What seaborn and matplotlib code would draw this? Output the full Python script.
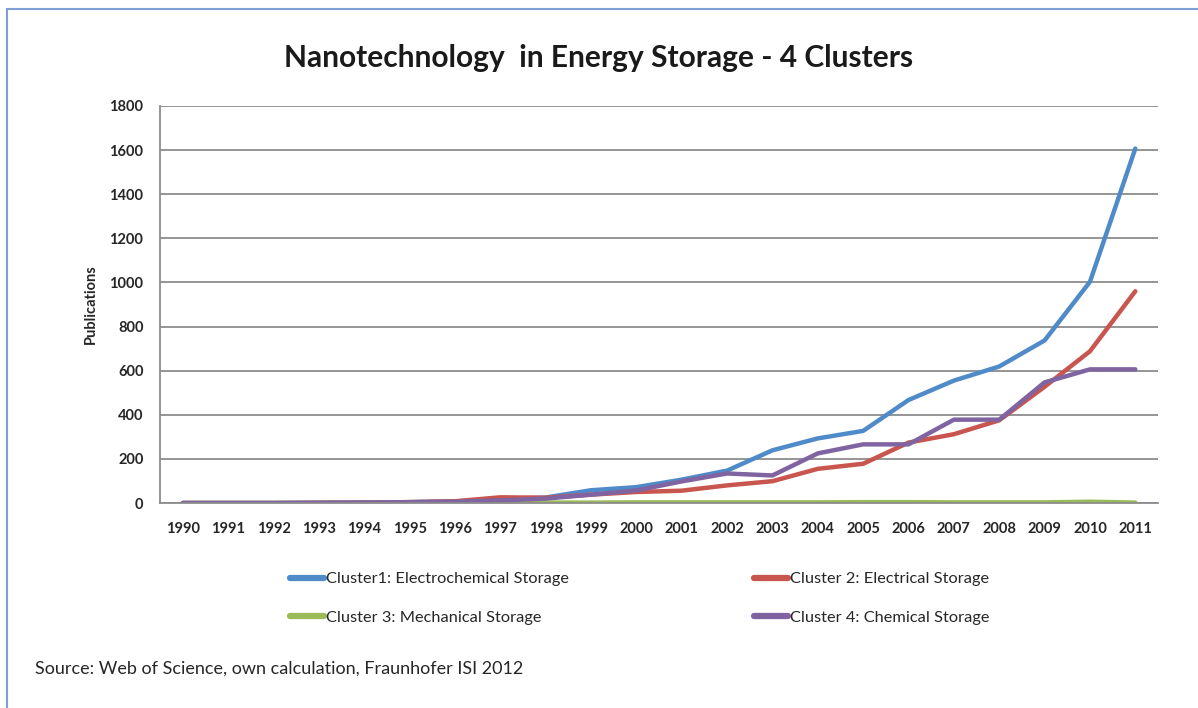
import pandas as pd
import numpy as np
import matplotlib.pyplot as plt
from matplotlib.patches import Rectangle
import seaborn as sns

# =============================
# DATA
# =============================
years = list(range(1990, 2012))

cluster1 = [0, 0, 0, 1, 2, 4, 7, 18, 25, 58, 72, 106, 147, 239, 293, 327, 467, 555, 619, 737, 1003, 1607]
cluster2 = [0, 0, 0, 1, 2, 4, 8, 26, 24, 38, 50, 56, 80, 99, 155, 178, 274, 312, 375, 527, 688, 960]
cluster3 = [0, 0, 0, 0, 0, 1, 1, 2, 2, 2, 3, 3, 3, 3, 3, 4, 4, 3, 3, 3, 6, 2]
cluster4 = [0, 0, 0, 1, 2, 4, 6, 12, 20, 38, 57, 98, 134, 125, 225, 266, 266, 378, 378, 547, 606, 606]

series_names = [
    "Cluster1: Electrochemical Storage",
    "Cluster 2: Electrical Storage",
    "Cluster 3: Mechanical Storage",
    "Cluster 4: Chemical Storage",
]
colors = ["#4F8BC9", "#C9554F", "#9BBB59", "#8064A2"]

df = pd.DataFrame({
    "year": years * 4,
    "publications": cluster1 + cluster2 + cluster3 + cluster4,
    "series": sum([[n] * len(years) for n in series_names], []),
})

# =============================
# PLOT
# =============================
sns.set_style("white")
plt.rcParams["font.family"] = ["Lato", "DejaVu Sans"]

fig = plt.figure(figsize=(11.98, 7.08), dpi=100)
ax = fig.add_axes([0.1336, 0.2895, 0.833, 0.5608])

sns.lineplot(data=df, x="year", y="publications", hue="series",
             palette=dict(zip(series_names, colors)), linewidth=3.2,
             ax=ax, legend=False, sort=False)

ax.set_xlim(1989.5, 2011.5)
ax.set_ylim(0, 1800)
ax.set_xticks(years)
ax.set_xticklabels([str(y) for y in years], fontsize=10.5, fontweight="bold")
ax.set_yticks(range(0, 1801, 200))
ax.set_yticklabels([str(v) for v in range(0, 1801, 200)], fontsize=10.5, fontweight="bold")
ax.tick_params(axis="x", length=0, pad=14)
ax.tick_params(axis="y", length=0, pad=12)
ax.yaxis.grid(True, color="#8C8C8C", linewidth=1.3)
ax.set_axisbelow(True)
ax.set_xlabel("")
ax.set_ylabel("Publications", fontsize=10.5, fontweight="bold", labelpad=8)

for s in ["top", "right"]:
    ax.spines[s].set_visible(False)
for s in ["left", "bottom"]:
    ax.spines[s].set_color("#8C8C8C")
    ax.spines[s].set_linewidth(1.3)

# legend: row 1 -> cluster 1, 2 ; row 2 -> cluster 3, 4
lines = ax.get_lines()
handles = [lines[0], lines[2], lines[1], lines[3]]
labels = [series_names[0], series_names[2], series_names[1], series_names[3]]
leg = fig.legend(handles, labels, ncol=2, loc="center", bbox_to_anchor=(0.534, 0.155),
                 frameon=False, fontsize=11.8, handlelength=2.1, handletextpad=0.1,
                 columnspacing=11.3, labelspacing=1.45)
for h in leg.get_lines():
    h.set_linewidth(4.5)

fig.text(0.5, 0.918, "Nanotechnology  in Energy Storage - 4 Clusters",
         ha="center", va="center", fontsize=21.5, fontweight="bold", color="#1a1a1a")
fig.text(0.029, 0.055, "Source: Web of Science, own calculation, Fraunhofer ISI 2012",
         ha="left", va="center", fontsize=13)

# outer chart border
fig.patches.append(Rectangle((7 / 1198, -0.1), 1.2, 1.1 - 9 / 708, transform=fig.transFigure,
                             fill=False, edgecolor="#7F9FD3", linewidth=1.5))

plt.savefig("out.png", dpi=100)
